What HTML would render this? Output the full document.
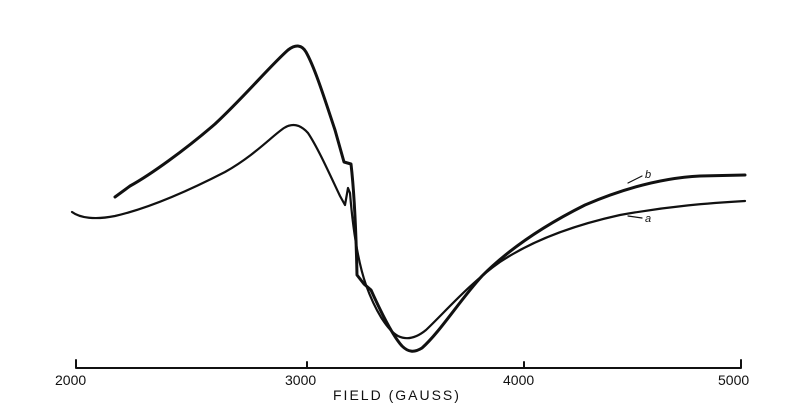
<!DOCTYPE html>
<html><head><style>
body{margin:0;background:#fff;width:807px;height:410px;overflow:hidden}
svg{display:block}
text{font-family:"Liberation Sans",sans-serif;fill:#111}
</style></head><body>
<svg width="807" height="410" viewBox="0 0 807 410">
<g fill="none" stroke="#111" stroke-linejoin="round" stroke-linecap="round">
<path stroke-width="3" d="M115,197 L130,186 C150,175 185,150 215,124 C245,96 270,66 288,50 C296,44 302,45 306,52 C315,68 325,100 335,130 L344,162 L351,164 C354,190 356,230 357,275 L364,284 L371,290 C380,310 392,335 402,346 C408,352 414,353 422,348 C440,332 460,300 482,276 C510,248 545,225 585,205 C620,190 660,178 700,176 L745,175"/>
<path stroke-width="2.2" d="M72,212 C80,218 95,220 115,216 C150,208 190,190 225,172 C255,155 272,136 284,128 C292,123 300,124 308,133 C318,148 330,175 340,196 L345,205 L348,188 L350,193 C353,230 358,262 366,285 C375,310 387,330 398,336 C406,340 415,339 426,330 C445,312 470,283 500,262 C530,242 570,226 620,215 C670,206 710,203 745,201"/>
<path stroke-width="2" d="M76,360 L76,368 L741,368 L741,360 M307,362 L307,368 M524,362 L524,368"/>
<path stroke-width="1.2" d="M628,183 L642,176 M628,183 L634,180 M628,216 L642,218"/>
</g>
<text x="55" y="385" font-size="14">2000</text>
<text x="285" y="385" font-size="14">3000</text>
<text x="503" y="385" font-size="14">4000</text>
<text x="718" y="385" font-size="14">5000</text>
<text x="333" y="400" font-size="14" letter-spacing="2">FIELD (GAUSS)</text>
<text x="645" y="178" font-size="11" font-style="italic">b</text>
<text x="645" y="222" font-size="11" font-style="italic">a</text>
</svg>
</body></html>
